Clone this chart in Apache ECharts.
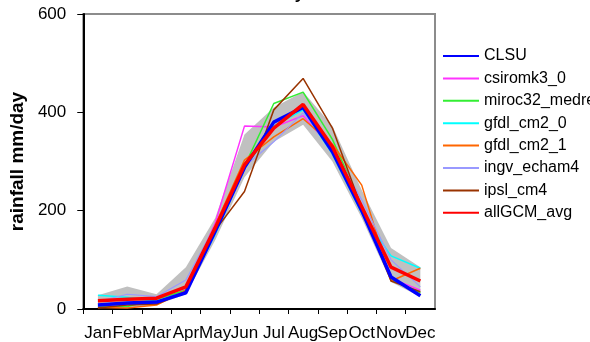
<!DOCTYPE html>
<html>
<head>
<meta charset="utf-8">
<script src="https://cdn.jsdelivr.net/npm/echarts@6/dist/echarts.min.js"></script>
<style>
html,body{margin:0;padding:0;background:#fff;}
#chart{width:590px;height:342px;}
</style>
</head>
<body>
<div id="chart"></div>
<script>
var months = ['Jan','Feb','Mar','Apr','May','Jun','Jul','Aug','Sep','Oct','Nov','Dec'];
var yTicks = [0, 200, 400, 600];

var bandLow  = [2, 2, 8, 30, 140, 268, 340, 375, 300, 185, 55, 25];
var bandHigh = [28, 46, 30, 85, 185, 355, 410, 442, 372, 242, 124, 85];

var CLSU        = [8, 12, 14, 33, 158, 288, 380, 410, 320, 200, 65, 27];
var csiromk3_0  = [5, 10, 12, 40, 175, 372, 370, 393, 325, 205, 62, 38];
var miroc32     = [6, 5, 20, 38, 165, 290, 418, 441, 345, 210, 60, 33];
var gfdl_cm2_0  = [28, 24, 15, 35, 152, 285, 372, 405, 315, 195, 108, 83];
var gfdl_cm2_1  = [3, 2, 8, 38, 170, 303, 350, 387, 335, 252, 57, 83];
var ingv_echam4 = [15, 30, 25, 59, 170, 290, 340, 399, 330, 222, 100, 45];
var ipsl_cm4    = [2, 8, 10, 35, 160, 239, 405, 469, 368, 205, 57, 35];
var allGCM_avg  = [17, 20, 22, 45, 165, 293, 368, 416, 330, 208, 85, 57];

var names = ['CLSU','csiromk3_0','miroc32_medres','gfdl_cm2_0','gfdl_cm2_1','ingv_echam4','ipsl_cm4','allGCM_avg'];
var dataSets = [CLSU, csiromk3_0, miroc32, gfdl_cm2_0, gfdl_cm2_1, ingv_echam4, ipsl_cm4, allGCM_avg];
var colors = ['#0000ff','#ff33ff','#33ee33','#00ffff','#ff6600','#9999ff','#993300','#ff0000'];
var widths = [3.5, 1.5, 1.5, 1.5, 1.5, 1.2, 1.5, 3.5];

var bandDiff = bandHigh.map(function(h, i){ return h - bandLow[i]; });

var series = [
  {name:'bandLow', type:'line', data:bandLow, stack:'band', symbol:'none', silent:true,
   lineStyle:{opacity:0}, z:1},
  {name:'band', type:'line', data:bandDiff, stack:'band', symbol:'none', silent:true,
   lineStyle:{opacity:0}, areaStyle:{color:'#c0c0c0', opacity:1}, z:1}
];
var order = [1,2,3,4,5,6,0,7];
order.forEach(function(i){
  series.push({
    name:names[i], type:'line', data:dataSets[i], symbol:'none',
    lineStyle:{color:colors[i], width:widths[i]}, itemStyle:{color:colors[i]},
    z: 2 + (i===0?8:(i===7?9:i))
  });
});

var chart = echarts.init(document.getElementById('chart'), null, {renderer:'canvas'});
chart.setOption({
  animation:false,
  backgroundColor:'#ffffff',
  textStyle:{fontFamily:'Liberation Sans, Arial, sans-serif'},
  title:{text:'Monthly', left:234, top:-19,
    textStyle:{fontSize:17, fontWeight:'bold', color:'#000', fontFamily:'Liberation Sans, Arial, sans-serif'}},
  grid:{left:82, right:155, top:14, bottom:33, show:true, borderColor:'#8c8c8c', borderWidth:2, backgroundColor:'transparent'},
  legend:{
    data:names, orient:'vertical', left:437, top:43,
    itemWidth:36, itemHeight:14, itemGap:6.4,
    itemStyle:{opacity:0},
    textStyle:{fontSize:16, color:'#000', fontFamily:'Liberation Sans, Arial, sans-serif'}
  },
  xAxis:{
    type:'category', data:months, boundaryGap:true,
    axisLine:{lineStyle:{color:'#000', width:2}},
    axisTick:{show:true, length:5, lineStyle:{color:'#000', width:1}, interval:0},
    axisLabel:{interval:0, fontSize:17, color:'#000', margin:16, fontFamily:'Liberation Sans, Arial, sans-serif'},
    splitLine:{show:false}
  },
  yAxis:{
    type:'value', min:yTicks[0], max:yTicks[yTicks.length-1], interval:200,
    name:'rainfall mm/day', nameLocation:'middle', nameGap:55, nameRotate:90,
    nameTextStyle:{fontSize:19, fontWeight:'bold', color:'#000', fontFamily:'Liberation Sans, Arial, sans-serif'},
    axisLine:{show:true, lineStyle:{color:'#000', width:2}},
    axisTick:{show:true, length:6, lineStyle:{color:'#000', width:1}},
    axisLabel:{fontSize:17, color:'#000', margin:17, fontFamily:'Liberation Sans, Arial, sans-serif'},
    splitLine:{show:false}
  },
  series:series
});
</script>
</body>
</html>
